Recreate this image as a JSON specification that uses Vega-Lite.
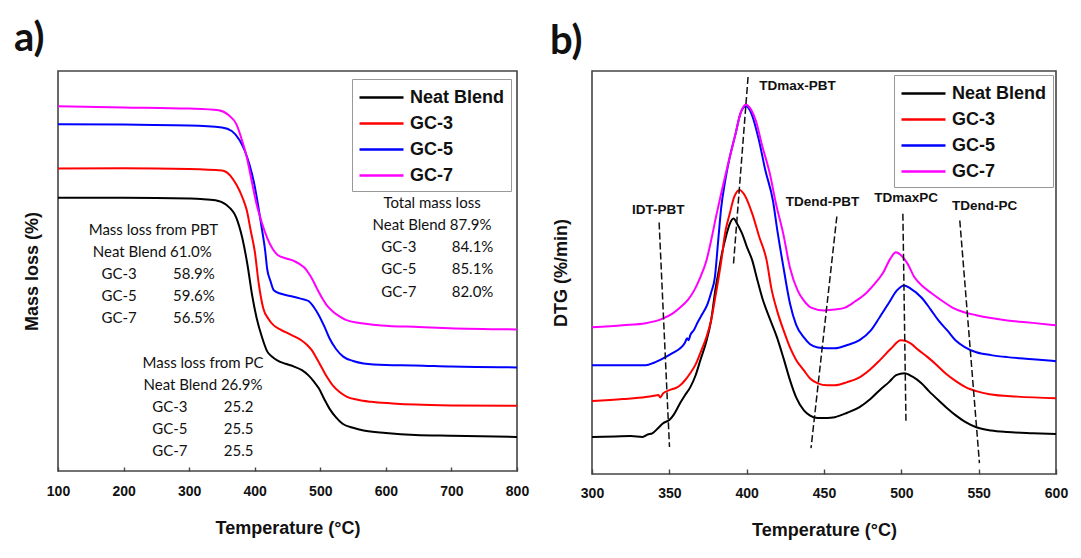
{
  "$schema": "https://vega.github.io/schema/vega-lite/v6.json",
  "padding": {"left": 13, "top": 18, "right": 5, "bottom": 5},
  "background": "white",
  "spacing": 19,
  "config": {
    "view": {"stroke": "#444", "strokeWidth": 1.6},
    "font": "Liberation Sans",
    "axis": {"labelFont": "Liberation Sans", "labelFontWeight": "bold", "labelFontSize": 14, "labelColor": "#111", "titleFont": "Liberation Sans", "titleFontWeight": "bold", "titleFontSize": 18, "titleColor": "#111", "grid": false, "domain": false, "tickColor": "#444", "tickWidth": 1.4},
    "legend": {"orient": "none", "title": null, "symbolType": "M-1,0H3", "symbolSize": 484, "symbolStrokeWidth": 2.5, "labelFont": "Liberation Sans", "labelFontSize": 18, "labelFontWeight": "bold", "labelColor": "#111", "labelOffset": 27, "strokeColor": "#999", "fillColor": "white", "padding": 6, "rowPadding": 4},
    "title": {"font": "Lato", "fontSize": 40, "fontWeight": "bold", "anchor": "start", "baseline": "alphabetic", "color": "#111", "frame": "group"}
  },
  "datasets": {
    "tga": [
      {"s": "Neat Blend", "t": 100, "v": 68.3}, {"s": "Neat Blend", "t": 200, "v": 68.3}, {"s": "Neat Blend", "t": 300, "v": 68.1}, {"s": "Neat Blend", "t": 318, "v": 68.0}, {"s": "Neat Blend", "t": 340, "v": 67.7}, {"s": "Neat Blend", "t": 356, "v": 66.6}, {"s": "Neat Blend", "t": 372, "v": 63.3}, {"s": "Neat Blend", "t": 381, "v": 58.3}, {"s": "Neat Blend", "t": 389, "v": 51.5}, {"s": "Neat Blend", "t": 396, "v": 44.0}, {"s": "Neat Blend", "t": 403, "v": 38.2}, {"s": "Neat Blend", "t": 411, "v": 33.5}, {"s": "Neat Blend", "t": 419, "v": 29.9}, {"s": "Neat Blend", "t": 427, "v": 28.5}, {"s": "Neat Blend", "t": 435, "v": 27.6}, {"s": "Neat Blend", "t": 447, "v": 26.8}, {"s": "Neat Blend", "t": 460, "v": 26.1}, {"s": "Neat Blend", "t": 472, "v": 25.2}, {"s": "Neat Blend", "t": 482, "v": 23.9}, {"s": "Neat Blend", "t": 490, "v": 22.4}, {"s": "Neat Blend", "t": 498, "v": 20.6}, {"s": "Neat Blend", "t": 506, "v": 18.0}, {"s": "Neat Blend", "t": 514, "v": 15.6}, {"s": "Neat Blend", "t": 524, "v": 13.4}, {"s": "Neat Blend", "t": 534, "v": 11.8}, {"s": "Neat Blend", "t": 550, "v": 10.8}, {"s": "Neat Blend", "t": 566, "v": 10.1}, {"s": "Neat Blend", "t": 600, "v": 9.5}, {"s": "Neat Blend", "t": 645, "v": 9.0}, {"s": "Neat Blend", "t": 700, "v": 8.8}, {"s": "Neat Blend", "t": 800, "v": 8.5},
      {"s": "GC-3", "t": 100, "v": 75.6}, {"s": "GC-3", "t": 200, "v": 75.7}, {"s": "GC-3", "t": 300, "v": 75.5}, {"s": "GC-3", "t": 350, "v": 75.1}, {"s": "GC-3", "t": 363, "v": 73.8}, {"s": "GC-3", "t": 372, "v": 71.6}, {"s": "GC-3", "t": 381, "v": 68.5}, {"s": "GC-3", "t": 388, "v": 65.1}, {"s": "GC-3", "t": 394, "v": 60.0}, {"s": "GC-3", "t": 400, "v": 55.0}, {"s": "GC-3", "t": 406, "v": 47.0}, {"s": "GC-3", "t": 413, "v": 40.7}, {"s": "GC-3", "t": 421, "v": 38.0}, {"s": "GC-3", "t": 429, "v": 36.4}, {"s": "GC-3", "t": 440, "v": 35.3}, {"s": "GC-3", "t": 451, "v": 34.4}, {"s": "GC-3", "t": 461, "v": 33.6}, {"s": "GC-3", "t": 471, "v": 32.7}, {"s": "GC-3", "t": 480, "v": 31.5}, {"s": "GC-3", "t": 487, "v": 30.2}, {"s": "GC-3", "t": 495, "v": 28.0}, {"s": "GC-3", "t": 503, "v": 25.6}, {"s": "GC-3", "t": 511, "v": 23.3}, {"s": "GC-3", "t": 519, "v": 21.4}, {"s": "GC-3", "t": 529, "v": 19.8}, {"s": "GC-3", "t": 540, "v": 18.6}, {"s": "GC-3", "t": 557, "v": 17.8}, {"s": "GC-3", "t": 577, "v": 17.3}, {"s": "GC-3", "t": 610, "v": 16.9}, {"s": "GC-3", "t": 645, "v": 16.6}, {"s": "GC-3", "t": 700, "v": 16.4}, {"s": "GC-3", "t": 800, "v": 16.3},
      {"s": "GC-5", "t": 100, "v": 86.7}, {"s": "GC-5", "t": 200, "v": 86.6}, {"s": "GC-5", "t": 300, "v": 86.4}, {"s": "GC-5", "t": 350, "v": 85.9}, {"s": "GC-5", "t": 365, "v": 85.0}, {"s": "GC-5", "t": 377, "v": 82.7}, {"s": "GC-5", "t": 385, "v": 80.0}, {"s": "GC-5", "t": 392, "v": 76.6}, {"s": "GC-5", "t": 399, "v": 72.0}, {"s": "GC-5", "t": 405, "v": 66.6}, {"s": "GC-5", "t": 411, "v": 60.5}, {"s": "GC-5", "t": 416, "v": 55.0}, {"s": "GC-5", "t": 419, "v": 50.5}, {"s": "GC-5", "t": 424, "v": 47.5}, {"s": "GC-5", "t": 429, "v": 45.2}, {"s": "GC-5", "t": 440, "v": 44.3}, {"s": "GC-5", "t": 456, "v": 43.7}, {"s": "GC-5", "t": 470, "v": 43.1}, {"s": "GC-5", "t": 482, "v": 42.5}, {"s": "GC-5", "t": 490, "v": 41.0}, {"s": "GC-5", "t": 498, "v": 38.9}, {"s": "GC-5", "t": 506, "v": 36.2}, {"s": "GC-5", "t": 514, "v": 33.2}, {"s": "GC-5", "t": 524, "v": 30.5}, {"s": "GC-5", "t": 535, "v": 28.6}, {"s": "GC-5", "t": 550, "v": 27.5}, {"s": "GC-5", "t": 566, "v": 26.9}, {"s": "GC-5", "t": 600, "v": 26.5}, {"s": "GC-5", "t": 645, "v": 26.4}, {"s": "GC-5", "t": 700, "v": 26.1}, {"s": "GC-5", "t": 800, "v": 25.9},
      {"s": "GC-7", "t": 100, "v": 91.2}, {"s": "GC-7", "t": 200, "v": 90.9}, {"s": "GC-7", "t": 300, "v": 90.6}, {"s": "GC-7", "t": 345, "v": 90.2}, {"s": "GC-7", "t": 360, "v": 89.0}, {"s": "GC-7", "t": 372, "v": 86.7}, {"s": "GC-7", "t": 380, "v": 83.0}, {"s": "GC-7", "t": 388, "v": 78.4}, {"s": "GC-7", "t": 396, "v": 72.0}, {"s": "GC-7", "t": 403, "v": 66.6}, {"s": "GC-7", "t": 411, "v": 62.0}, {"s": "GC-7", "t": 419, "v": 58.3}, {"s": "GC-7", "t": 427, "v": 55.6}, {"s": "GC-7", "t": 435, "v": 54.0}, {"s": "GC-7", "t": 447, "v": 53.2}, {"s": "GC-7", "t": 460, "v": 52.5}, {"s": "GC-7", "t": 468, "v": 51.8}, {"s": "GC-7", "t": 476, "v": 50.8}, {"s": "GC-7", "t": 482, "v": 49.5}, {"s": "GC-7", "t": 487, "v": 48.2}, {"s": "GC-7", "t": 495, "v": 45.6}, {"s": "GC-7", "t": 503, "v": 43.2}, {"s": "GC-7", "t": 511, "v": 41.2}, {"s": "GC-7", "t": 519, "v": 39.9}, {"s": "GC-7", "t": 530, "v": 38.6}, {"s": "GC-7", "t": 540, "v": 37.7}, {"s": "GC-7", "t": 560, "v": 37.0}, {"s": "GC-7", "t": 593, "v": 36.4}, {"s": "GC-7", "t": 650, "v": 36.0}, {"s": "GC-7", "t": 697, "v": 35.7}, {"s": "GC-7", "t": 800, "v": 35.4}
    ],
    "dtg": [
      {"s": "Neat Blend", "t": 300, "v": 9.2}, {"s": "Neat Blend", "t": 315, "v": 9.3}, {"s": "Neat Blend", "t": 325, "v": 9.4}, {"s": "Neat Blend", "t": 332.7, "v": 9.2}, {"s": "Neat Blend", "t": 336, "v": 9.8}, {"s": "Neat Blend", "t": 339, "v": 10.1}, {"s": "Neat Blend", "t": 343, "v": 11.5}, {"s": "Neat Blend", "t": 346, "v": 12.6}, {"s": "Neat Blend", "t": 350, "v": 13.4}, {"s": "Neat Blend", "t": 353, "v": 14.8}, {"s": "Neat Blend", "t": 357, "v": 17.6}, {"s": "Neat Blend", "t": 360, "v": 19.5}, {"s": "Neat Blend", "t": 363.5, "v": 21.5}, {"s": "Neat Blend", "t": 367, "v": 24.5}, {"s": "Neat Blend", "t": 370, "v": 28.2}, {"s": "Neat Blend", "t": 374, "v": 33.0}, {"s": "Neat Blend", "t": 377, "v": 38.1}, {"s": "Neat Blend", "t": 380, "v": 46.3}, {"s": "Neat Blend", "t": 382, "v": 50.5}, {"s": "Neat Blend", "t": 384, "v": 54.7}, {"s": "Neat Blend", "t": 387, "v": 59.5}, {"s": "Neat Blend", "t": 389, "v": 62.0}, {"s": "Neat Blend", "t": 391.5, "v": 63.4}, {"s": "Neat Blend", "t": 394, "v": 62.0}, {"s": "Neat Blend", "t": 397, "v": 59.7}, {"s": "Neat Blend", "t": 400, "v": 56.5}, {"s": "Neat Blend", "t": 403.6, "v": 53.0}, {"s": "Neat Blend", "t": 407, "v": 48.0}, {"s": "Neat Blend", "t": 410, "v": 43.8}, {"s": "Neat Blend", "t": 415, "v": 38.5}, {"s": "Neat Blend", "t": 419.6, "v": 33.9}, {"s": "Neat Blend", "t": 424, "v": 28.5}, {"s": "Neat Blend", "t": 428, "v": 23.3}, {"s": "Neat Blend", "t": 432, "v": 19.0}, {"s": "Neat Blend", "t": 437, "v": 15.8}, {"s": "Neat Blend", "t": 441, "v": 14.5}, {"s": "Neat Blend", "t": 446, "v": 13.9}, {"s": "Neat Blend", "t": 452, "v": 13.9}, {"s": "Neat Blend", "t": 457, "v": 14.1}, {"s": "Neat Blend", "t": 465, "v": 15.2}, {"s": "Neat Blend", "t": 473, "v": 16.6}, {"s": "Neat Blend", "t": 480, "v": 18.6}, {"s": "Neat Blend", "t": 486, "v": 20.8}, {"s": "Neat Blend", "t": 492, "v": 22.8}, {"s": "Neat Blend", "t": 497, "v": 24.6}, {"s": "Neat Blend", "t": 502, "v": 25.0}, {"s": "Neat Blend", "t": 507, "v": 24.2}, {"s": "Neat Blend", "t": 513, "v": 22.5}, {"s": "Neat Blend", "t": 518, "v": 20.5}, {"s": "Neat Blend", "t": 524, "v": 18.3}, {"s": "Neat Blend", "t": 530, "v": 16.2}, {"s": "Neat Blend", "t": 535, "v": 14.6}, {"s": "Neat Blend", "t": 541, "v": 13.0}, {"s": "Neat Blend", "t": 548.5, "v": 11.6}, {"s": "Neat Blend", "t": 558, "v": 10.8}, {"s": "Neat Blend", "t": 568.5, "v": 10.4}, {"s": "Neat Blend", "t": 585, "v": 10.1}, {"s": "Neat Blend", "t": 600, "v": 9.9},
      {"s": "GC-3", "t": 300, "v": 18.1}, {"s": "GC-3", "t": 320, "v": 18.6}, {"s": "GC-3", "t": 334.7, "v": 19.1}, {"s": "GC-3", "t": 340, "v": 19.4}, {"s": "GC-3", "t": 343, "v": 19.6}, {"s": "GC-3", "t": 344, "v": 19.0}, {"s": "GC-3", "t": 346, "v": 20.0}, {"s": "GC-3", "t": 350, "v": 20.8}, {"s": "GC-3", "t": 355, "v": 21.5}, {"s": "GC-3", "t": 357, "v": 22.0}, {"s": "GC-3", "t": 360, "v": 23.2}, {"s": "GC-3", "t": 363.5, "v": 25.0}, {"s": "GC-3", "t": 367, "v": 27.2}, {"s": "GC-3", "t": 370, "v": 30.0}, {"s": "GC-3", "t": 374, "v": 34.0}, {"s": "GC-3", "t": 377, "v": 38.1}, {"s": "GC-3", "t": 380, "v": 44.5}, {"s": "GC-3", "t": 382, "v": 49.0}, {"s": "GC-3", "t": 384, "v": 54.0}, {"s": "GC-3", "t": 386, "v": 59.7}, {"s": "GC-3", "t": 389, "v": 64.5}, {"s": "GC-3", "t": 392, "v": 68.8}, {"s": "GC-3", "t": 395.5, "v": 70.5}, {"s": "GC-3", "t": 399, "v": 69.0}, {"s": "GC-3", "t": 403.6, "v": 64.6}, {"s": "GC-3", "t": 408, "v": 59.0}, {"s": "GC-3", "t": 412.9, "v": 53.0}, {"s": "GC-3", "t": 416, "v": 46.0}, {"s": "GC-3", "t": 419.6, "v": 40.6}, {"s": "GC-3", "t": 424, "v": 35.5}, {"s": "GC-3", "t": 428, "v": 31.4}, {"s": "GC-3", "t": 432, "v": 28.3}, {"s": "GC-3", "t": 437, "v": 25.7}, {"s": "GC-3", "t": 441, "v": 23.7}, {"s": "GC-3", "t": 446, "v": 22.5}, {"s": "GC-3", "t": 452, "v": 22.0}, {"s": "GC-3", "t": 457, "v": 22.0}, {"s": "GC-3", "t": 465, "v": 22.8}, {"s": "GC-3", "t": 473, "v": 24.0}, {"s": "GC-3", "t": 480, "v": 26.0}, {"s": "GC-3", "t": 486, "v": 28.2}, {"s": "GC-3", "t": 493, "v": 31.0}, {"s": "GC-3", "t": 499.7, "v": 33.2}, {"s": "GC-3", "t": 503, "v": 33.0}, {"s": "GC-3", "t": 506, "v": 32.4}, {"s": "GC-3", "t": 511, "v": 30.8}, {"s": "GC-3", "t": 517, "v": 29.0}, {"s": "GC-3", "t": 523, "v": 27.0}, {"s": "GC-3", "t": 528.5, "v": 25.0}, {"s": "GC-3", "t": 535, "v": 23.1}, {"s": "GC-3", "t": 541.8, "v": 21.5}, {"s": "GC-3", "t": 549, "v": 20.5}, {"s": "GC-3", "t": 557, "v": 19.8}, {"s": "GC-3", "t": 575, "v": 19.2}, {"s": "GC-3", "t": 600, "v": 18.8},
      {"s": "GC-5", "t": 300, "v": 27.0}, {"s": "GC-5", "t": 320, "v": 27.0}, {"s": "GC-5", "t": 334.7, "v": 27.0}, {"s": "GC-5", "t": 340, "v": 27.6}, {"s": "GC-5", "t": 346, "v": 28.7}, {"s": "GC-5", "t": 352, "v": 30.0}, {"s": "GC-5", "t": 357, "v": 31.2}, {"s": "GC-5", "t": 360, "v": 32.5}, {"s": "GC-5", "t": 361.5, "v": 33.7}, {"s": "GC-5", "t": 362.5, "v": 33.2}, {"s": "GC-5", "t": 363.5, "v": 34.4}, {"s": "GC-5", "t": 366, "v": 35.8}, {"s": "GC-5", "t": 368, "v": 37.4}, {"s": "GC-5", "t": 371, "v": 39.5}, {"s": "GC-5", "t": 374.8, "v": 42.3}, {"s": "GC-5", "t": 377, "v": 45.0}, {"s": "GC-5", "t": 379.5, "v": 49.0}, {"s": "GC-5", "t": 381.5, "v": 57.5}, {"s": "GC-5", "t": 383.5, "v": 66.0}, {"s": "GC-5", "t": 386, "v": 72.5}, {"s": "GC-5", "t": 389, "v": 78.5}, {"s": "GC-5", "t": 392.8, "v": 84.4}, {"s": "GC-5", "t": 396, "v": 89.5}, {"s": "GC-5", "t": 399.5, "v": 91.3}, {"s": "GC-5", "t": 403, "v": 89.5}, {"s": "GC-5", "t": 408, "v": 82.7}, {"s": "GC-5", "t": 412, "v": 75.5}, {"s": "GC-5", "t": 417, "v": 67.8}, {"s": "GC-5", "t": 420, "v": 60.0}, {"s": "GC-5", "t": 423.6, "v": 51.7}, {"s": "GC-5", "t": 428, "v": 42.3}, {"s": "GC-5", "t": 432, "v": 37.0}, {"s": "GC-5", "t": 437, "v": 33.9}, {"s": "GC-5", "t": 441, "v": 32.2}, {"s": "GC-5", "t": 446, "v": 31.4}, {"s": "GC-5", "t": 452, "v": 31.2}, {"s": "GC-5", "t": 457, "v": 31.2}, {"s": "GC-5", "t": 465, "v": 32.0}, {"s": "GC-5", "t": 473, "v": 33.2}, {"s": "GC-5", "t": 480, "v": 35.5}, {"s": "GC-5", "t": 486, "v": 38.9}, {"s": "GC-5", "t": 492, "v": 42.5}, {"s": "GC-5", "t": 497, "v": 45.5}, {"s": "GC-5", "t": 501.7, "v": 46.8}, {"s": "GC-5", "t": 506, "v": 46.0}, {"s": "GC-5", "t": 513, "v": 43.8}, {"s": "GC-5", "t": 519, "v": 40.8}, {"s": "GC-5", "t": 524, "v": 38.1}, {"s": "GC-5", "t": 530, "v": 35.5}, {"s": "GC-5", "t": 535, "v": 33.2}, {"s": "GC-5", "t": 541, "v": 31.5}, {"s": "GC-5", "t": 548.5, "v": 30.2}, {"s": "GC-5", "t": 558, "v": 29.5}, {"s": "GC-5", "t": 568.5, "v": 29.0}, {"s": "GC-5", "t": 585, "v": 28.5}, {"s": "GC-5", "t": 600, "v": 28.0},
      {"s": "GC-7", "t": 300, "v": 36.4}, {"s": "GC-7", "t": 320, "v": 36.9}, {"s": "GC-7", "t": 334.7, "v": 37.4}, {"s": "GC-7", "t": 346, "v": 38.6}, {"s": "GC-7", "t": 352, "v": 39.8}, {"s": "GC-7", "t": 357, "v": 41.3}, {"s": "GC-7", "t": 362, "v": 43.2}, {"s": "GC-7", "t": 366, "v": 45.5}, {"s": "GC-7", "t": 370, "v": 48.8}, {"s": "GC-7", "t": 374, "v": 53.0}, {"s": "GC-7", "t": 377, "v": 57.9}, {"s": "GC-7", "t": 380, "v": 63.5}, {"s": "GC-7", "t": 383.5, "v": 69.6}, {"s": "GC-7", "t": 388, "v": 77.0}, {"s": "GC-7", "t": 392.8, "v": 84.4}, {"s": "GC-7", "t": 396, "v": 89.5}, {"s": "GC-7", "t": 399.5, "v": 91.6}, {"s": "GC-7", "t": 403, "v": 90.3}, {"s": "GC-7", "t": 406, "v": 87.6}, {"s": "GC-7", "t": 410, "v": 81.5}, {"s": "GC-7", "t": 415, "v": 74.5}, {"s": "GC-7", "t": 419, "v": 67.0}, {"s": "GC-7", "t": 423.6, "v": 59.7}, {"s": "GC-7", "t": 428, "v": 51.2}, {"s": "GC-7", "t": 433, "v": 45.5}, {"s": "GC-7", "t": 437, "v": 43.0}, {"s": "GC-7", "t": 441.6, "v": 41.3}, {"s": "GC-7", "t": 450, "v": 40.6}, {"s": "GC-7", "t": 457, "v": 40.8}, {"s": "GC-7", "t": 463.6, "v": 41.3}, {"s": "GC-7", "t": 470, "v": 42.8}, {"s": "GC-7", "t": 477, "v": 44.8}, {"s": "GC-7", "t": 483, "v": 47.3}, {"s": "GC-7", "t": 488, "v": 49.8}, {"s": "GC-7", "t": 493, "v": 53.5}, {"s": "GC-7", "t": 496.4, "v": 55.0}, {"s": "GC-7", "t": 500, "v": 54.2}, {"s": "GC-7", "t": 504, "v": 52.2}, {"s": "GC-7", "t": 508.5, "v": 48.8}, {"s": "GC-7", "t": 514, "v": 46.5}, {"s": "GC-7", "t": 519.8, "v": 44.8}, {"s": "GC-7", "t": 527, "v": 42.8}, {"s": "GC-7", "t": 533, "v": 41.3}, {"s": "GC-7", "t": 540, "v": 40.2}, {"s": "GC-7", "t": 548.5, "v": 39.4}, {"s": "GC-7", "t": 558, "v": 38.7}, {"s": "GC-7", "t": 568.5, "v": 38.1}, {"s": "GC-7", "t": 585, "v": 37.5}, {"s": "GC-7", "t": 600, "v": 36.9}
    ],
    "tgaText": [
      {"t": 245.4, "v": 60.3, "text": "Mass loss from PBT", "k": "c"},
      {"t": 243.8, "v": 54.8, "text": "Neat Blend 61.0%", "k": "c"},
      {"t": 166.4, "v": 49.2, "text": "GC-3", "k": "l"}, {"t": 275.4, "v": 49.2, "text": "58.9%", "k": "l"},
      {"t": 166.4, "v": 43.7, "text": "GC-5", "k": "l"}, {"t": 275.4, "v": 43.7, "text": "59.6%", "k": "l"},
      {"t": 166.4, "v": 38.2, "text": "GC-7", "k": "l"}, {"t": 275.4, "v": 38.2, "text": "56.5%", "k": "l"},
      {"t": 321.2, "v": 26.9, "text": "Mass loss from PC", "k": "c"},
      {"t": 321.2, "v": 21.4, "text": "Neat Blend 26.9%", "k": "c"},
      {"t": 243.8, "v": 16.1, "text": "GC-3", "k": "l"}, {"t": 352.8, "v": 16.1, "text": "25.2", "k": "l"},
      {"t": 243.8, "v": 10.6, "text": "GC-5", "k": "l"}, {"t": 352.8, "v": 10.6, "text": "25.5", "k": "l"},
      {"t": 243.8, "v": 5.0, "text": "GC-7", "k": "l"}, {"t": 352.8, "v": 5.0, "text": "25.5", "k": "l"},
      {"t": 670.4, "v": 67.1, "text": "Total mass loss", "k": "c"},
      {"t": 670.4, "v": 61.6, "text": "Neat Blend 87.9%", "k": "c"},
      {"t": 593, "v": 56.0, "text": "GC-3", "k": "l"}, {"t": 700.4, "v": 56.0, "text": "84.1%", "k": "l"},
      {"t": 593, "v": 50.5, "text": "GC-5", "k": "l"}, {"t": 700.4, "v": 50.5, "text": "85.1%", "k": "l"},
      {"t": 593, "v": 44.7, "text": "GC-7", "k": "l"}, {"t": 700.4, "v": 44.7, "text": "82.0%", "k": "l"}
    ],
    "dtgText": [
      {"t": 408.2, "v": 96.3, "text": "TDmax-PBT", "k": "l"},
      {"t": 342.8, "v": 65.6, "text": "IDT-PBT", "k": "c"},
      {"t": 449, "v": 67.6, "text": "TDend-PBT", "k": "c"},
      {"t": 503.1, "v": 68.6, "text": "TDmaxPC", "k": "c"},
      {"t": 553.8, "v": 66.6, "text": "TDend-PC", "k": "c"}
    ],
    "dtgRules": [
      {"t1": 400.9, "v1": 98.5, "t2": 391.5, "v2": 52.2},
      {"t1": 343.4, "v1": 62.4, "t2": 350.1, "v2": 6.7},
      {"t1": 458.3, "v1": 63.9, "t2": 441.6, "v2": 6.4},
      {"t1": 501, "v1": 64.6, "t2": 503, "v2": 12.9},
      {"t1": 537.8, "v1": 62.9, "t2": 550.5, "v2": 2.7}
    ]
  },
  "resolve": {"scale": {"color": "independent", "x": "independent", "y": "independent"}, "legend": {"color": "independent"}},
  "hconcat": [
    {
      "width": 459,
      "height": 400,
      "title": {"text": "a)", "dx": -44, "offset": 12},
      "layer": [
        {
          "data": {"name": "tga"},
          "mark": {"type": "line", "strokeWidth": 2, "interpolate": "monotone"},
          "encoding": {
            "x": {"field": "t", "type": "quantitative", "scale": {"domain": [100, 800], "nice": false}, "axis": {"title": "Temperature (°C)", "values": [100, 150, 200, 250, 300, 350, 400, 450, 500, 550, 600, 650, 700, 750, 800], "labelExpr": "datum.value % 100 === 0 ? datum.label : ''", "tickSize": -4, "labelPadding": 17, "titlePadding": 21, "labelFlush": false}},
            "y": {"field": "v", "type": "quantitative", "scale": {"domain": [0, 100], "nice": false}, "axis": {"title": "Mass loss (%)", "labels": false, "ticks": false, "titlePadding": 17}},
            "color": {"field": "s", "type": "nominal", "scale": {"domain": ["Neat Blend", "GC-3", "GC-5", "GC-7"], "range": ["#000000", "#ff0000", "#0000ff", "#ff00ff"]}, "legend": {"legendX": 294, "legendY": 8}}
          }
        },
        {
          "data": {"name": "tgaText"},
          "transform": [{"filter": "datum.k === 'c'"}],
          "mark": {"type": "text", "font": "Lato", "fontSize": 15, "align": "center", "baseline": "middle", "color": "#111"},
          "encoding": {"x": {"field": "t", "type": "quantitative"}, "y": {"field": "v", "type": "quantitative"}, "text": {"field": "text"}}
        },
        {
          "data": {"name": "tgaText"},
          "transform": [{"filter": "datum.k === 'l'"}],
          "mark": {"type": "text", "font": "Lato", "fontSize": 15, "align": "left", "baseline": "middle", "color": "#111"},
          "encoding": {"x": {"field": "t", "type": "quantitative"}, "y": {"field": "v", "type": "quantitative"}, "text": {"field": "text"}}
        }
      ]
    },
    {
      "width": 464,
      "height": 403,
      "title": {"text": "b)", "dx": -42, "offset": 9},
      "layer": [
        {
          "data": {"name": "dtg"},
          "mark": {"type": "line", "strokeWidth": 2, "interpolate": "monotone"},
          "encoding": {
            "x": {"field": "t", "type": "quantitative", "scale": {"domain": [300, 600], "nice": false}, "axis": {"title": "Temperature (°C)", "values": [300, 312.5, 325, 337.5, 350, 362.5, 375, 387.5, 400, 412.5, 425, 437.5, 450, 462.5, 475, 487.5, 500, 512.5, 525, 537.5, 550, 562.5, 575, 587.5, 600], "labelExpr": "datum.value % 25 === 0 ? datum.label : ''", "tickSize": {"condition": {"test": "datum.value % 25 === 0", "value": -5}, "value": -3}, "labelPadding": 17, "titlePadding": 21, "labelFlush": false}},
            "y": {"field": "v", "type": "quantitative", "scale": {"domain": [0, 100], "nice": false}, "axis": {"title": "DTG (%/min)", "labels": false, "ticks": false, "titlePadding": 22}},
            "color": {"field": "s", "type": "nominal", "scale": {"domain": ["Neat Blend", "GC-3", "GC-5", "GC-7"], "range": ["#000000", "#ff0000", "#0000ff", "#ff00ff"]}, "legend": {"legendX": 302, "legendY": 4}}
          }
        },
        {
          "data": {"name": "dtgRules"},
          "mark": {"type": "rule", "color": "#111", "strokeWidth": 1.5, "strokeDash": [7, 3]},
          "encoding": {"x": {"field": "t1", "type": "quantitative"}, "y": {"field": "v1", "type": "quantitative"}, "x2": {"field": "t2"}, "y2": {"field": "v2"}}
        },
        {
          "data": {"name": "dtgText"},
          "transform": [{"filter": "datum.k === 'c'"}],
          "mark": {"type": "text", "font": "Liberation Sans", "fontSize": 13.5, "fontWeight": "bold", "align": "center", "baseline": "middle", "color": "#111"},
          "encoding": {"x": {"field": "t", "type": "quantitative"}, "y": {"field": "v", "type": "quantitative"}, "text": {"field": "text"}}
        },
        {
          "data": {"name": "dtgText"},
          "transform": [{"filter": "datum.k === 'l'"}],
          "mark": {"type": "text", "font": "Liberation Sans", "fontSize": 13.5, "fontWeight": "bold", "align": "left", "baseline": "middle", "color": "#111"},
          "encoding": {"x": {"field": "t", "type": "quantitative"}, "y": {"field": "v", "type": "quantitative"}, "text": {"field": "text"}}
        }
      ]
    }
  ]
}
